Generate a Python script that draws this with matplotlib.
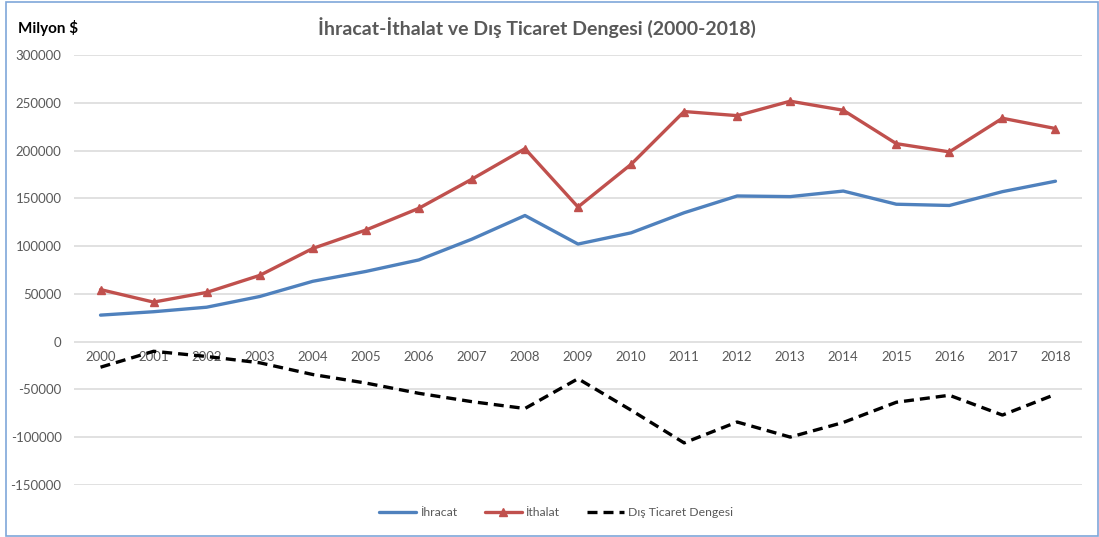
import matplotlib
matplotlib.use("Agg")
import matplotlib.pyplot as plt
from matplotlib.patches import Rectangle

years = [str(y) for y in range(2000, 2019)]
ihracat = [27775, 31334, 36059, 47253, 63167, 73476, 85535, 107272, 132027, 102143,
           113883, 134907, 152462, 151803, 157610, 143839, 142530, 156993, 167921]
ithalat = [54503, 41399, 51554, 69340, 97540, 116774, 139576, 170063, 201964, 140928,
           185544, 240842, 236545, 251661, 242177, 207234, 198618, 233800, 223047]
denge = [-26728, -10065, -15495, -22087, -34373, -43298, -54041, -62791, -69937, -38785,
         -71661, -105935, -84083, -99858, -84567, -63395, -56088, -76807, -55126]
yticks = [300000, 250000, 200000, 150000, 100000, 50000, 0, -50000, -100000, -150000]

plt.rcParams['font.family'] = ['Lato', 'DejaVu Sans']
W, H = 1099, 537
fig = plt.figure(figsize=(W / 100, H / 100), dpi=100)
fig.patches.append(Rectangle((6 / W, 1 / H), (1098 - 6) / W, (535 - 1) / H,
                             transform=fig.transFigure, fill=False,
                             edgecolor='#7FA7D9', lw=1.2))

ax = fig.add_axes([74 / W, 1 - 485 / H, (1082 - 74) / W, (485 - 55) / H])
x = list(range(len(years)))
l1, = ax.plot(x, ihracat, color='#4F81BD', lw=2.4, solid_capstyle='round', label='İhracat', zorder=3)
l2, = ax.plot(x, ithalat, color='#C0504D', lw=2.4, marker='^', markersize=6,
              solid_capstyle='round', label='İthalat', zorder=3)
l3, = ax.plot(x, denge, color='black', lw=2.4, ls=(0, (3, 1.8)), label='Dış Ticaret Dengesi', zorder=3)

ax.set_xlim(-0.5, len(years) - 0.5)
ax.set_ylim(-150000, 300000)
ax.set_yticks(yticks)
ax.set_yticklabels([str(v) for v in yticks])
ax.set_xticks(x)
ax.set_xticklabels(years)
ax.grid(axis='y', color='#D9D9D9', lw=1.1)
ax.set_axisbelow(True)
for s in ['top', 'right', 'left']:
    ax.spines[s].set_visible(False)
ax.spines['bottom'].set_position(('data', 0))
ax.spines['bottom'].set_visible(False)
ax.tick_params(axis='both', length=0, colors='#595959', labelsize=9.5)
ax.tick_params(axis='x', pad=7)
ax.tick_params(axis='y', pad=9)

fig.text(537 / W, 1 - 28 / H, 'İhracat-İthalat ve Dış Ticaret Dengesi (2000-2018)',
         ha='center', va='center', fontsize=14, fontweight='bold', color='#595959')
fig.text(18 / W, 1 - 28 / H, 'Milyon $', ha='left', va='center', fontsize=11,
         fontweight='bold', color='black')

fig.legend(handles=[l1, l2, l3], loc='center', bbox_to_anchor=(556 / W, 1 - 513 / H),
           ncol=3, frameon=False, fontsize=8.8, labelcolor='#595959',
           handlelength=3.0, handletextpad=0.3, columnspacing=2.3)

fig.savefig('out.png', dpi=100)
